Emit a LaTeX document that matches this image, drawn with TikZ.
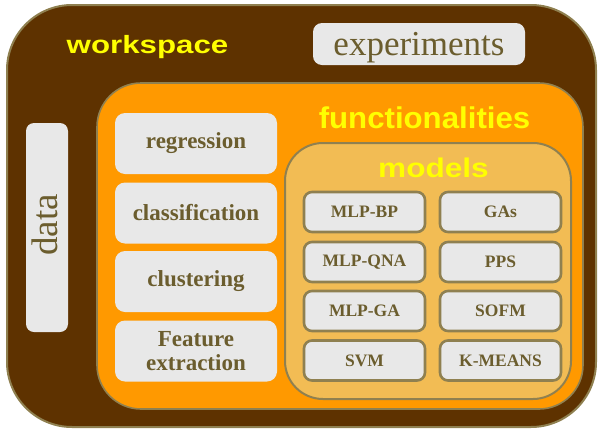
\documentclass[tikz,border=0pt]{standalone}
\usepackage{fontspec}
\setmainfont{Liberation Serif}
\newfontfamily\headfont{Liberation Sans}
\definecolor{wsbrown}{HTML}{5E3200}
\definecolor{fnorange}{HTML}{FF9900}
\definecolor{mdlorange}{HTML}{F2BC54}
\definecolor{boxgray}{HTML}{E8E8E8}
\definecolor{olive}{HTML}{8F8050}
\definecolor{olivetext}{HTML}{6B5D2E}
\definecolor{headyellow}{HTML}{FFFF00}
\tikzset{
  panel/.style={rectangle, inner sep=0pt, outer sep=0pt, anchor=north west, draw=olive},
  graybox/.style={rectangle, inner sep=0pt, outer sep=0pt, fill=boxgray,
    rounded corners=10pt, text=olivetext, align=center},
  funcbox/.style={graybox, minimum width=162pt, minimum height=61pt,
    font=\bfseries\fontsize{23}{25}\selectfont},
  modelbox/.style={graybox, draw=olive, line width=2.6pt, rounded corners=8pt,
    minimum width=121pt, minimum height=40pt,
    font=\bfseries\fontsize{17.5}{20}\selectfont},
  heading/.style={anchor=base, inner sep=0pt, text=headyellow,
    font=\headfont\bfseries},
}
\begin{document}
\begin{tikzpicture}[x=1pt,y=-1pt]
\useasboundingbox (0,0) rectangle (598,429);

% nested containers
\node[panel, fill=wsbrown, line width=2pt, rounded corners=65pt,
  minimum width=589pt, minimum height=422pt] (workspace) at (7,5) {};
\node[panel, fill=fnorange, line width=1.6pt, rounded corners=44pt,
  minimum width=486pt, minimum height=326pt] (functionalities) at (97,83) {};
\node[panel, fill=mdlorange, line width=2pt, rounded corners=38pt,
  minimum width=286pt, minimum height=256pt] (models) at (285,143) {};

% headings
\node[heading, font=\headfont\bfseries\fontsize{25}{28}\selectfont, xscale=1.25]
  (wslabel) at (147.5,53) {workspace};
\node[heading, font=\headfont\bfseries\fontsize{30}{33}\selectfont, xscale=1.04]
  (fnlabel) at (424.5,128) {functionalities};
\node[heading, font=\headfont\bfseries\fontsize{27}{30}\selectfont, xscale=1.17]
  (mdlabel) at (433.5,177) {models};

% data and experiments
\node[graybox, rounded corners=8pt, minimum width=42pt, minimum height=209pt]
  (data) at (47,227.5) {};
\node[anchor=base, rotate=90, inner sep=0pt, text=olivetext,
  font=\fontsize{37}{40}\selectfont] (datalabel) at (57,225) {data};
\node[graybox, rounded corners=9pt, minimum width=212pt, minimum height=42pt]
  (experiments) at (419,44) {};
\node[anchor=base, inner sep=0pt, text=olivetext,
  font=\fontsize{35}{38}\selectfont] (explabel) at (419,55) {experiments};

% functionalities column
\node[funcbox] (regression) at (196,143.5) {regression};
\node[funcbox] (classification) at (196,213) {classification};
\node[funcbox] (clustering) at (196,281.5) {clustering};
\node[funcbox] (feature) at (196,351) {Feature\\[-1pt]extraction};

% model boxes
\node[modelbox] (mlpbp)  at (364.5,212) {MLP-BP};
\node[modelbox] (gas)    at (500.5,212) {GAs};
\node[modelbox] (mlpqna) at (364.5,262) {MLP-QNA};
\node[modelbox] (pps)    at (500.5,262) {PPS};
\node[modelbox] (mlpga)  at (364.5,311) {MLP-GA};
\node[modelbox] (sofm)   at (500.5,311) {SOFM};
\node[modelbox] (svm)    at (364.5,360.5) {SVM};
\node[modelbox] (kmeans) at (500.5,360.5) {K-MEANS};
\end{tikzpicture}
\end{document}
